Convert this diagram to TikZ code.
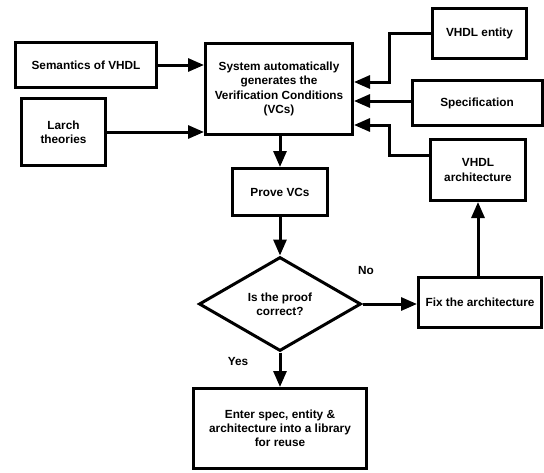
\documentclass[tikz,border=0pt]{standalone}
\usepackage{fontspec}
\setmainfont{Liberation Sans}
\usetikzlibrary{arrows.meta,shapes.geometric}
\tikzset{
  box/.style={draw, line width=3pt, align=center, inner sep=2pt,
    font=\bfseries\fontsize{11.8}{14.2}\selectfont},
  dec/.style={draw, diamond, line width=3pt, align=center, inner sep=0pt,
    font=\bfseries\fontsize{11.8}{14.2}\selectfont},
  lbl/.style={font=\bfseries\fontsize{11.8}{14.2}\selectfont},
  arr/.style={line width=3pt, -{Triangle[length=16pt,width=13pt]}},
  ln/.style={line width=3pt}
}
\begin{document}
\begin{tikzpicture}[x=1pt,y=-1pt]
\useasboundingbox (0,0) rectangle (544,472);
\node[box, minimum width=141pt, minimum height=45pt] (sem) at (86,65) {Semantics of VHDL};
\node[box, minimum width=84pt, minimum height=67pt] (larch) at (63.5,132) {Larch\\theories};
\node[box, minimum width=147pt, minimum height=91pt] (sys) at (279,89) {System automatically\\generates the\\Verification Conditions\\(VCs)};
\node[box, minimum width=94pt, minimum height=50pt] (ent) at (479.5,33.5) {VHDL entity};
\node[box, minimum width=130pt, minimum height=45pt] (spec) at (477,103) {Specification};
\node[box, minimum width=95pt, minimum height=61pt] (arch) at (478,170) {VHDL\\architecture};
\node[box, minimum width=95pt, minimum height=47pt] (prove) at (280,192) {Prove VCs};
\node[dec, minimum width=162pt, minimum height=94pt] (dia) at (280,304) {Is the proof\\correct?};
\node[box, minimum width=123pt, minimum height=50pt] (fix) at (480,302) {Fix the architecture};
\node[box, minimum width=173pt, minimum height=80pt] (enter) at (280,428.5) {Enter spec, entity \&\\architecture into a library\\for reuse};
\node[lbl] (no) at (366,270) {No};
\node[lbl] (yes) at (238,361) {Yes};
% connectors
\draw[arr] (sem.east) -- (sem.east -| sys.west);
\draw[arr] (larch.east) -- (larch.east -| sys.west);
\coordinate (e1) at (389,33.5);
\coordinate (e2) at (389,82);
\draw[arr] (ent.west) -- (e1) -- (e2) -- (e2 -| sys.east);
\draw[arr] (spec.west |- 0,101) -- (sys.east |- 0,101);
\coordinate (a0) at (arch.west |- 0,155);
\coordinate (a1) at (389,155);
\coordinate (a2) at (389,125);
\draw[arr] (a0) -- (a1) -- (a2) -- (a2 -| sys.east);
\draw[arr] (prove.north |- sys.south) -- (prove.north);
\draw[arr] (prove.south) -- (dia.north);
\draw[arr] (dia.east) -- (dia.east -| fix.west);
\draw[arr] (dia.south) -- (enter.north);
\draw[arr] (arch.south |- fix.north) -- (arch.south);
\end{tikzpicture}
\end{document}
